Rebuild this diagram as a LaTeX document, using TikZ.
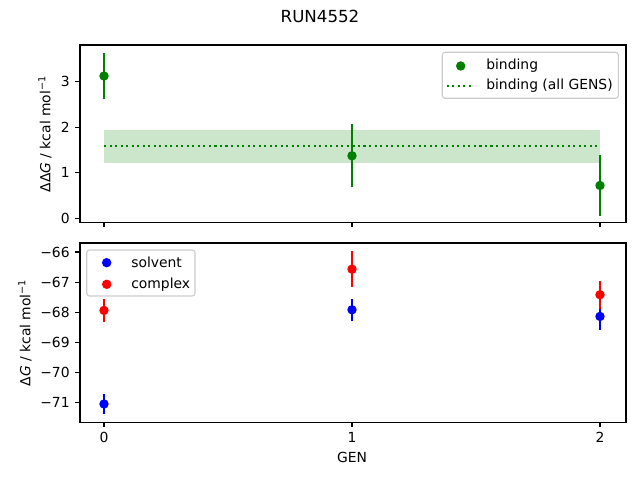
\documentclass[tikz,border=0pt]{standalone}
\usepackage{fontspec}
\setmainfont{DejaVu Sans}

\definecolor{mplgreen}{HTML}{008000}
\definecolor{mplband}{HTML}{CCE6CC}
\definecolor{legframe}{HTML}{CCCCCC}

\tikzset{
  frame/.style={line width=0.8pt},
  tick/.style={line width=0.8pt},
  ebar/.style={line width=1.5pt},
  ticklab/.style={inner sep=0pt},
  legbox/.style={legframe, fill=white, fill opacity=0.8, text opacity=1, rounded corners=2pt, line width=0.8pt}
}

\begin{document}
\begin{tikzpicture}[x=0.72pt,y=0.72pt,font=\fontsize{10}{12}\selectfont]
		\useasboundingbox (0,0) rectangle (640,480);

		% title
		\node[font=\fontsize{12}{14}\selectfont] (title) at (320,464) {RUN4552};

		% top panel: binding
		\begin{scope}[shift={(104,261.7)},x=178.56pt,y=32.83pt]
		\fill[mplband] (0,1.22) rectangle (2,1.94);
		\draw[mplgreen, line width=1.5pt, dash pattern=on 1.5pt off 2.475pt] (0,1.58) -- (2,1.58);

		% error bars
		\foreach \g/\v/\e in {0/3.12/0.51, 1/1.37/0.69, 2/0.72/0.66} {
			\draw[ebar, mplgreen] (\g,\v-\e) -- (\g,\v+\e);
			\fill[mplgreen] (\g,\v) circle [radius=3.4pt];
		}

		% axes
		\draw[frame] (-0.097,-0.094) rectangle (2.105,3.80);
		\foreach \t in {0,1,2,3}
			\draw[tick] (-0.097,\t) -- ++(-3.5pt,0) node[ticklab, anchor=east, xshift=-3.5pt] (ty\t) {\t};
		\foreach \t in {0,1,2}
			\draw[tick] (\t,-0.094) -- ++(0,-3.5pt);
		\end{scope}

		\node[rotate=90] (ylabtop) at (45,346) {ΔΔ\textit{G} / kcal mol\textsuperscript{−1}};

		% top legend
		\draw[legbox] (442.3,427.7) rectangle (618.3,381.7);
		\fill[mplgreen] (460.7,414) circle [radius=3.4pt];
		\node[anchor=west, inner sep=0pt] (legbind) at (486,414) {binding};
		\draw[mplgreen, line width=1.5pt, dash pattern=on 1.5pt off 2.475pt] (446.7,394.3) -- (474.3,394.3);
		\node[anchor=west, inner sep=0pt] (legall) at (486,394.3) {binding (all GENS)};

		% bottom panel: solvent and complex
		\begin{scope}[shift={(104,2214.4)},x=178.56pt,y=21.67pt]
		\foreach \g/\v/\e in {0/-71.05/0.32, 1/-67.92/0.36, 2/-68.14/0.44} {
			\draw[ebar, blue] (\g,\v-\e) -- (\g,\v+\e);
			\fill[blue] (\g,\v) circle [radius=3.4pt];
		}
		\foreach \g/\v/\e in {0/-67.94/0.37, 1/-66.57/0.6, 2/-67.42/0.46} {
			\draw[ebar, red] (\g,\v-\e) -- (\g,\v+\e);
			\fill[red] (\g,\v) circle [radius=3.4pt];
		}

		% axes
		\draw[frame] (-0.097,-71.65) rectangle (2.105,-65.70);
		\foreach \t in {66,67,68,69,70,71}
			\draw[tick] (-0.097,-\t) -- ++(-3.5pt,0) node[ticklab, anchor=east, xshift=-3.5pt] (by\t) {−\t};
		\foreach \t in {0,1,2}
			\draw[tick] (\t,-71.65) -- ++(0,-3.5pt) node[ticklab, anchor=north, yshift=-3.5pt] (bx\t) {\t};
		\end{scope}

		\node[rotate=90] (ylabbot) at (25,147.3) {Δ\textit{G} / kcal mol\textsuperscript{−1}};
		\node (xlab) at (352,22.3) {GEN};

		% bottom legend
		\draw[legbox] (86.7,230) rectangle (195,184);
		\fill[blue] (106.7,217.3) circle [radius=3.4pt];
		\node[anchor=west, inner sep=0pt] (legsolv) at (131,217.3) {solvent};
		\fill[red] (106.7,195.7) circle [radius=3.4pt];
		\node[anchor=west, inner sep=0pt] (legcplx) at (131,195.7) {complex};
	\end{tikzpicture}
\end{document}
